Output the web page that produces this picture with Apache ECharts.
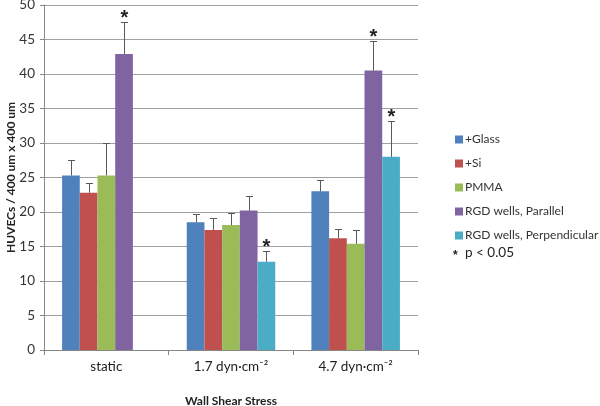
<!DOCTYPE html>
<html>
<head>
<meta charset="utf-8">
<script src="https://cdn.jsdelivr.net/npm/echarts@6/dist/echarts.min.js"></script>
<style>html,body{margin:0;padding:0;background:#fff;}#c{width:600px;height:406px;}</style>
</head>
<body>
<div id="c"></div>
<script>
var categories = ['static', '1.7 dyn\u00b7cm\u207b\u00b2', '4.7 dyn\u00b7cm\u207b\u00b2'];
var seriesNames = ['+Glass', '+Si', 'PMMA', 'RGD wells, Parallel', 'RGD wells, Perpendicular'];
var glass = [25.3, 18.5, 23.0];
var glassSd = [2.2, 1.2, 1.6];
var si = [22.8, 17.4, 16.2];
var siSd = [1.4, 1.8, 1.4];
var pmma = [25.3, 18.1, 15.4];
var pmmaSd = [4.7, 1.7, 2.0];
var parallel = [42.9, 20.2, 40.5];
var parallelSd = [4.7, 2.1, 4.3];
var perp = [null, 12.8, 28.0];
var perpSd = [null, 1.6, 5.2];
var glassSig = [0, 0, 0];
var siSig = [0, 0, 0];
var pmmaSig = [0, 0, 0];
var parallelSig = [1, 0, 1];
var perpSig = [0, 1, 1];
var yTicks = [0, 5, 10, 15, 20, 25, 30, 35, 40, 45, 50];

var colors = ['#4F81BD', '#C0504D', '#9BBB59', '#8064A2', '#4BACC6'];
var values = [glass, si, pmma, parallel, perp];
var sds = [glassSd, siSd, pmmaSd, parallelSd, perpSd];
var sigs = [glassSig, siSig, pmmaSig, parallelSig, perpSig];
var FONT = 'Lato, "Liberation Sans", sans-serif';
var CAT_GAP = 0.29;

var barSeries = seriesNames.map(function (n, i) {
  return {
    name: n, type: 'bar', data: values[i],
    itemStyle: { color: colors[i] },
    barGap: '0%', barCategoryGap: (CAT_GAP * 100) + '%',
    emphasis: { disabled: true }, animation: false
  };
});

var errData = [];
for (var s = 0; s < values.length; s++) {
  for (var c = 0; c < categories.length; c++) {
    if (values[s][c] == null) continue;
    errData.push([c, values[s][c], sds[s][c], s, sigs[s][c]]);
  }
}

var errSeries = {
  type: 'custom', name: 'err', data: errData, z: 5, animation: false,
  silent: true,
  renderItem: function (params, api) {
    var c = api.value(0), v = api.value(1), sd = api.value(2), s = api.value(3), sig = api.value(4);
    var catW = api.size([1, 0])[0];
    var barW = catW * (1 - CAT_GAP) / 5;
    var base = api.coord([c, v]);
    var top = api.coord([c, v + sd]);
    var x = Math.round(base[0] + (s - 2) * barW) + 0.5;
    var yb = base[1], yt = Math.round(top[1]) + 0.5;
    var children = [
      { type: 'line', shape: { x1: x, y1: yb, x2: x, y2: yt }, style: { stroke: '#595959', lineWidth: 1 } },
      { type: 'line', shape: { x1: x - 3.5, y1: yt, x2: x + 3.5, y2: yt }, style: { stroke: '#595959', lineWidth: 1 } }
    ];
    if (sig) {
      children.push({ type: 'text', style: { text: '*', x: x, y: yt - 4, align: 'center', verticalAlign: 'middle', font: 'bold 20px "Liberation Sans", sans-serif', fill: '#222' } });
    }
    return { type: 'group', children: children };
  }
};

var chart = echarts.init(document.getElementById('c'), null, { renderer: 'canvas' });
chart.setOption({
  animation: false,
  color: colors,
  grid: { left: 44, right: 182, top: 5, bottom: 56, containLabel: false, outerBoundsMode: 'none' },
  legend: {
    data: seriesNames, orient: 'vertical', left: 450, top: 128,
    itemWidth: 8, itemHeight: 8, itemGap: 11, icon: 'rect',
    textStyle: { fontFamily: FONT, fontSize: 12, lineHeight: 13, color: '#333', padding: [0, 0, 0, -3] },
    selectedMode: false
  },
  xAxis: {
    type: 'category', data: categories,
    axisLine: { lineStyle: { color: '#868686' } },
    axisTick: { show: true, length: 5, lineStyle: { color: '#868686' } },
    axisLabel: { fontFamily: FONT, fontSize: 13.5, color: '#222', margin: 10 },
    name: 'Wall Shear Stress', nameLocation: 'middle', nameGap: 45, nameMoveOverlap: false,
    nameTextStyle: { fontFamily: FONT, fontSize: 12, fontWeight: 'bold', color: '#222' }
  },
  yAxis: {
    type: 'value', min: 0, max: 50, interval: 5,
    axisLine: { show: true, lineStyle: { color: '#868686' } },
    axisTick: { show: true, length: 4, lineStyle: { color: '#868686' } },
    splitLine: { lineStyle: { color: '#a0a0a0' } },
    axisLabel: { fontFamily: FONT, fontSize: 13.5, color: '#333', margin: 9,
      formatter: function (v) { return yTicks.indexOf(v) >= 0 ? String(v) : ''; } },
    name: 'HUVECs / 400 um x 400 um', nameLocation: 'middle', nameGap: 27, nameMoveOverlap: false,
    nameTextStyle: { fontFamily: FONT, fontSize: 12, fontWeight: 'bold', color: '#222' }
  },
  graphic: [
    { type: 'text', left: 453, top: 250, style: { text: '*', font: 'bold 12px "Liberation Sans", sans-serif', fill: '#222' } },
    { type: 'text', left: 465, top: 246, style: { text: 'p < 0.05', font: '13.5px ' + FONT, fill: '#222' } }
  ],
  series: barSeries.concat([errSeries])
});
</script>
</body>
</html>
